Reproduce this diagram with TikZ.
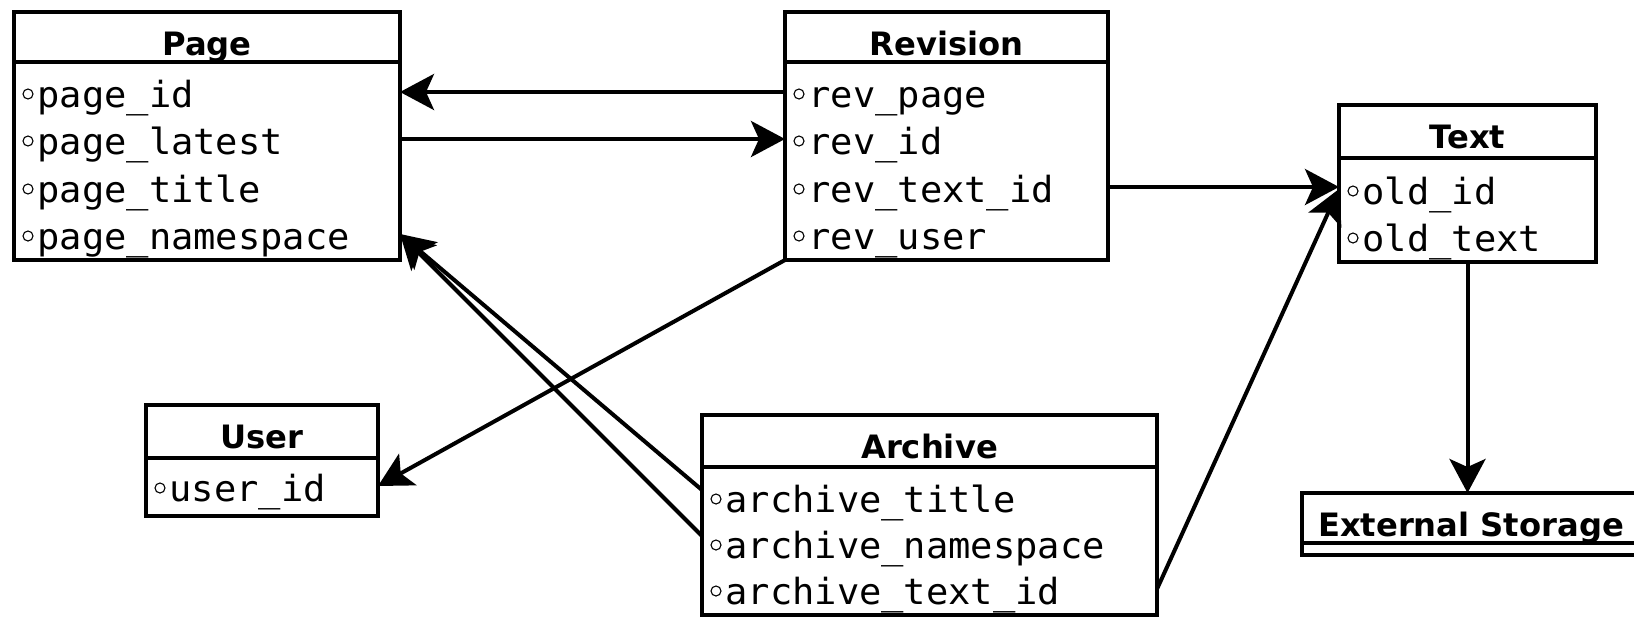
\documentclass[tikz,border=0pt]{standalone}
\usepackage{fontspec}
\newfontfamily\hdrfont{DejaVu Sans}
\newfontfamily\attrfont{DejaVu Sans Mono}[FakeStretch=1.03]
\usetikzlibrary{arrows.meta,calc,fit}
\tikzset{
  boxline/.style={line width=2.2pt},
  umlbox/.style={draw, boxline, inner sep=0pt, outer sep=0pt},
  hdr/.style={anchor=base, inner sep=0pt, font=\hdrfont\bfseries\fontsize{16.1pt}{19pt}\selectfont},
  attr/.style={anchor=west, inner sep=0pt, text height=9.85pt, text depth=0pt, font=\attrfont\fontsize{18pt}{20pt}\selectfont},
  bulletring/.style={line width=0.55pt},
  conn/.style={line width=2pt, -{Stealth[length=17pt,width=18pt,inset=4pt]}},
}
% name, left, top, right, divider, bottom, title
\newcommand\umltable[7]{%
  \node[umlbox, fit={(#2,#3) (#4,#6)}] (#1) {};
  \draw[boxline] (#1.west |- 0,#5) -- (#1.east |- 0,#5);
  \node[hdr] (#1-title) at ($(#1.north)+(0,43)$) {#7};
}
% name, left, y (connection height), text
\newcommand\attrrow[4]{%
  \coordinate (#1) at (#2,#3);
  \draw[bulletring] (#2+14,#3+2) circle (2.5pt);
  \node[attr] (#1-t) at (#2+23,#3+6) {#4};
}
\begin{document}
\begin{tikzpicture}[x=0.5pt,y=-0.5pt]
\path[use as bounding box] (0,0) rectangle (1634,617);
\clip (0,0) rectangle (1634,617);

\umltable{page}{14}{12}{400}{62}{260}{Page}
\attrrow{pid}{14}{92}{page\_id}
\attrrow{plat}{14}{139}{page\_latest}
\attrrow{ptitle}{14}{187}{page\_title}
\attrrow{pns}{14}{234}{page\_namespace}

\umltable{rev}{785}{12}{1108}{62}{260}{Revision}
\attrrow{rpage}{785}{92}{rev\_page}
\attrrow{rid}{785}{139}{rev\_id}
\attrrow{rtext}{785}{187}{rev\_text\_id}
\attrrow{ruser}{785}{234}{rev\_user}

\umltable{txt}{1339}{105}{1596}{158}{262}{Text}
\attrrow{oid}{1339}{189}{old\_id}
\attrrow{otext}{1339}{236}{old\_text}

\umltable{user}{146}{405}{378}{458}{516}{User}
\attrrow{uid}{146}{486}{user\_id}

\umltable{arch}{702}{415}{1157}{467}{615}{Archive}
\attrrow{atitle}{702}{497}{archive\_title}
\attrrow{ans}{702}{543}{archive\_namespace}
\attrrow{atext}{702}{589}{archive\_text\_id}

\umltable{ext}{1302}{493}{1640}{543}{555}{External Storage}

\draw[conn] (pid -| rev.west) -- (pid -| page.east);
\draw[conn] (plat -| page.east) -- (plat -| rev.west);
\draw[conn] (rtext -| rev.east) -- (rtext -| txt.west);
\draw[conn] (rev.south west) -- (uid -| user.east);
\draw[conn] ($(atitle -| arch.west)+(0,-7)$) -- (pns -| page.east);
\draw[conn] ($(ans -| arch.west)+(0,-7)$) -- (pns -| page.east);
\draw[conn] (atext -| arch.east) -- (oid -| txt.west);
\draw[conn] (txt.south) -- (txt.south |- ext.north);
\end{tikzpicture}
\end{document}
